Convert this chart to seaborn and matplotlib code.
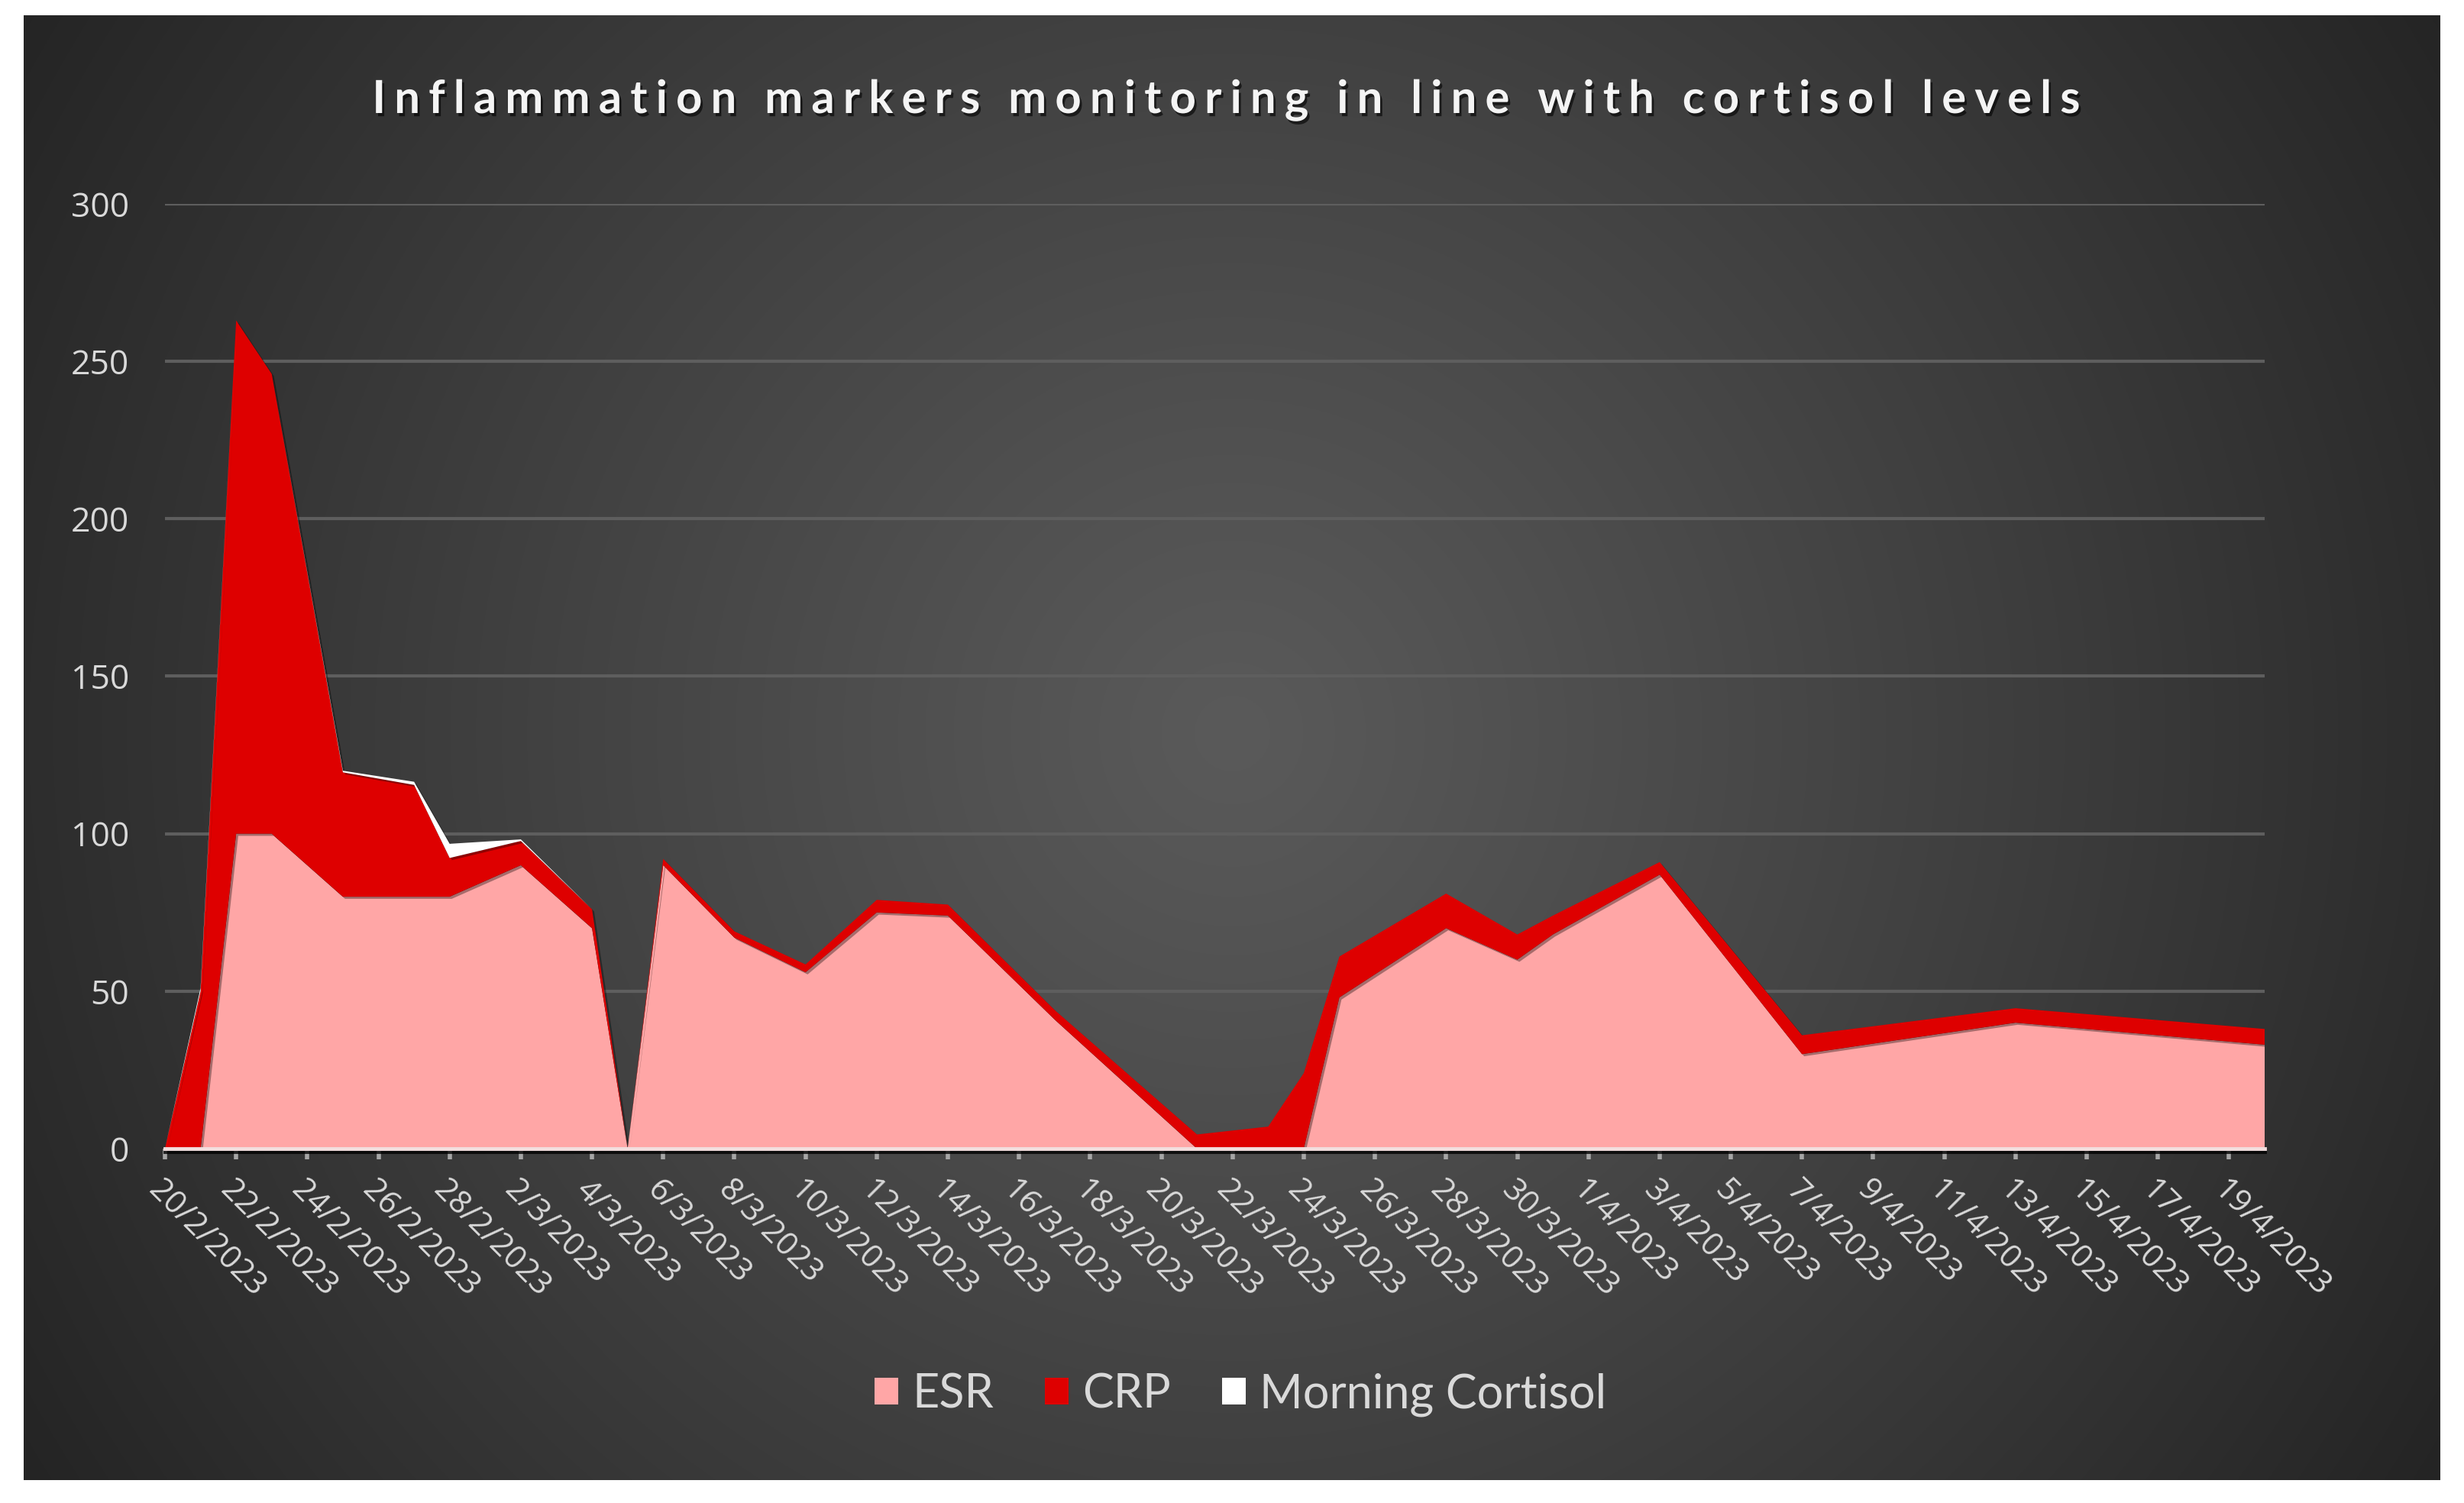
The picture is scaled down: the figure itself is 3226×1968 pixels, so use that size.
import matplotlib
matplotlib.use("Agg")
import matplotlib.pyplot as plt
import matplotlib.patheffects as pe
import seaborn as sns
import pandas as pd
import numpy as np

dates = ["20/2/2023", "21/2/2023", "22/2/2023", "23/2/2023", "25/2/2023", "27/2/2023",
         "28/2/2023", "2/3/2023", "4/3/2023", "5/3/2023", "6/3/2023", "8/3/2023",
         "10/3/2023", "12/3/2023", "14/3/2023", "17/3/2023", "21/3/2023", "23/3/2023",
         "24/3/2023", "25/3/2023", "28/3/2023", "30/3/2023", "31/3/2023", "3/4/2023",
         "7/4/2023", "13/4/2023", "20/4/2023"]
esr = [0, 0, 100, 100, 80, 80, 80, 90, 70, 0, 90, 67, 56, 75, 74, 41, 0, 0, 0,
       48, 70, 60, 68, 87, 30, 40, 33]
crp = [0, 50, 163, 146, 39.5, 35.5, 12.3, 7.7, 6, 0, 2, 2, 2.5, 4, 3.5, 3, 4.5, 7, 24,
       13, 11, 8, 6, 4, 6, 4.6, 5]
cortisol = [0, 1, 0, 0, 0.5, 1, 4.5, 0.5, 0, 0, 0, 0, 0, 0, 0, 0, 0, 0, 0,
            0, 0, 0, 0, 0, 0, 0, 0]
series_names = ["ESR", "CRP", "Morning Cortisol"]
series_colors = ["#FFA6A6", "#DE0000", "#FFFFFF"]
title = "Inflammation markers monitoring in line with cortisol levels"

df = pd.DataFrame({"Date": pd.to_datetime(dates, dayfirst=True),
                   "ESR": esr, "CRP": crp, "Morning Cortisol": cortisol})

sns.set_theme(style="dark")
plt.rcParams["font.family"] = ["Open Sans", "DejaVu Sans"]

W, H = 3226, 1968
fig = plt.figure(figsize=(W / 100, H / 100), dpi=100)
fig.patch.set_facecolor("white")

# radial dark background of the chart area
x0, x1, y0, y1 = 31, 3195, 20, 1938
bg = fig.add_axes([x0 / W, 1 - y1 / H, (x1 - x0) / W, (y1 - y0) / H], zorder=-5)
gx, gy = np.meshgrid(np.arange(x1 - x0), np.arange(y1 - y0))
r = np.sqrt((gx - (x1 - x0) / 2) ** 2 + (gy - (y1 - y0) * 0.49) ** 2)
r = np.clip(r / r.max(), 0, 1)
c_in, c_out = 0x5a / 255, 0x24 / 255
shade = c_in + (c_out - c_in) * r ** 1.1
bg.imshow(np.dstack([shade, shade, shade]), aspect="auto", interpolation="bilinear")
bg.set_axis_off()

ax = fig.add_axes([216 / W, 1 - 1504 / H, (2965 - 216) / W, (1504 - 267) / H])
ax.set_facecolor("none")
polys = ax.stackplot(df["Date"], df["ESR"], df["CRP"], df["Morning Cortisol"],
                     labels=series_names, colors=series_colors, linewidth=0, zorder=3)
for p in polys:
    p.set_path_effects([pe.withSimplePatchShadow(offset=(2, -2), shadow_rgbFace="black", alpha=0.35)])

start = df["Date"].iloc[0]
end = df["Date"].iloc[-1]
ax.set_xlim(start, end)
ax.set_ylim(0, 300)
ax.set_yticks(np.arange(0, 301, 50))

ticks = pd.date_range(start, end, freq="2D")
ax.set_xticks(ticks)
ax.set_xticklabels([f"{d.day}/{d.month}/{d.year}" for d in ticks], rotation=-45,
                   ha="left", va="top", rotation_mode="anchor", fontsize=30, color="#d9d9d9")
ax.tick_params(axis="x", which="both", bottom=True, length=10, width=4, color="#a6a6a6",
               direction="out", pad=14)
ax.tick_params(axis="y", length=0, labelsize=32, labelcolor="#d9d9d9", pad=34)

ax.grid(False)
ax.yaxis.grid(True, color="#5e5e5e", linewidth=3, zorder=0)
ax.set_axisbelow(True)
for s in ["top", "right", "left"]:
    ax.spines[s].set_visible(False)
ax.spines["bottom"].set_color("#f2dede")
ax.spines["bottom"].set_linewidth(3.5)
ax.spines["bottom"].set_zorder(4)
ax.spines["bottom"].set_path_effects([pe.SimpleLineShadow(offset=(0, -3), shadow_color="black", alpha=0.8),
                                      pe.Normal()])
ax.set_xlabel("")
ax.set_ylabel("")

# wide letter spacing like the original title
gap = "\u2009\u200a"
spaced = gap.join(title).replace(gap + " " + gap, " " + gap + gap)
fig.text(0.4985, 1 - 148 / H, spaced, ha="center", va="baseline", fontsize=43,
         fontweight="bold", color="#f4f4f4", family=["Lato", "DejaVu Sans"],
         path_effects=[pe.withSimplePatchShadow(offset=(2, -3), shadow_rgbFace="black", alpha=0.6)])

leg = fig.legend(loc="center", bbox_to_anchor=(0.5035, 1 - 1826 / H), ncol=3, frameon=False,
                 handlelength=0.5, handleheight=0.5, handletextpad=0.3, columnspacing=1.1,
                 prop={"family": ["Lato", "DejaVu Sans"], "size": 44})
for t in leg.get_texts():
    t.set_color("#d9d9d9")

fig.savefig("out.png", dpi=100, facecolor=fig.get_facecolor())
